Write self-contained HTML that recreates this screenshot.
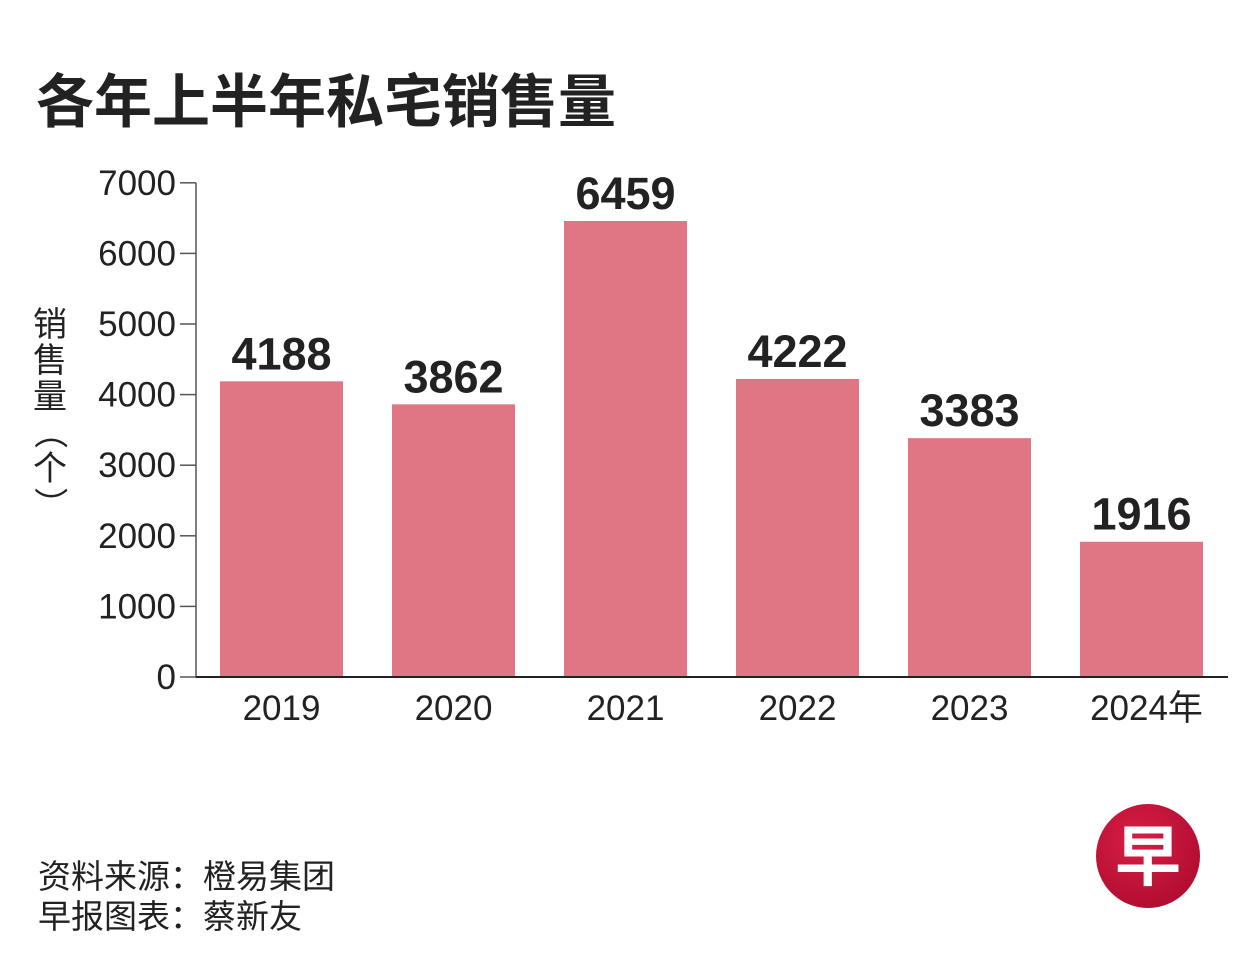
<!DOCTYPE html>
<html><head><meta charset="utf-8"><style>
body{margin:0;background:#fff;}
svg text{font-family:"Liberation Sans","Noto Sans CJK SC",sans-serif;}
</style></head><body>
<svg width="1251" height="960" viewBox="0 0 1251 960">
<text x="36" y="122" font-size="58" font-weight="bold" fill="#222">各年上半年私宅销售量</text>
<g id="yaxis"></g>
<g id="bars"></g>
<g id="xaxis"></g>
<g font-size="34" fill="#222">
<text x="50" y="336" text-anchor="middle">销</text>
<text x="50" y="372" text-anchor="middle">售</text>
<text x="50" y="408" text-anchor="middle">量</text>
<text x="50" y="444" text-anchor="middle" transform="rotate(90 50 432)">（</text>
<text x="50" y="480" text-anchor="middle">个</text>
<text x="50" y="516" text-anchor="middle" transform="rotate(90 50 504)">）</text>
</g>
<text x="38" y="888" font-size="33" fill="#222">资料来源：橙易集团</text>
<text x="38" y="928" font-size="33" fill="#222">早报图表：蔡新友</text>
<g>
<defs><radialGradient id="lg" cx="0.4" cy="0.35" r="0.7"><stop offset="0" stop-color="#d81e45"/><stop offset="1" stop-color="#b00c30"/></radialGradient></defs>
<circle cx="1148" cy="856" r="52" fill="url(#lg)"/>
<text x="1148" y="880" font-size="66" font-weight="bold" fill="#fff" text-anchor="middle" font-family="'Noto Sans CJK SC',sans-serif">早</text>
</g>
</svg>
<script>
const categories=["2019","2020","2021","2022","2023","2024年"];
const values=[4188,3862,6459,4222,3383,1916];
const ticks=[0,1000,2000,3000,4000,5000,6000,7000];
const NS="http://www.w3.org/2000/svg";
const y0=677,pxPer=456/6459;
function y(v){return y0-v*pxPer;}
function xL(i){return 220+i*172;}
const bw=123;
function mk(t,a,p){const e=document.createElementNS(NS,t);for(const k in a)e.setAttribute(k,a[k]);p.appendChild(e);return e;}
const ya=document.getElementById('yaxis'),bg=document.getElementById('bars'),xa=document.getElementById('xaxis');
const axl=mk('line',{x1:196,x2:196,y1:y(7000),y2:y0,stroke:'#555','stroke-width':1.5},ya);


ticks.forEach(t=>{
 const l=mk('line',{x1:180,x2:196,y1:y(t),y2:y(t),stroke:'#555','stroke-width':1.5},ya);
 
 
 const tx=mk('text',{x:176,y:y(t)+12,'font-size':35,'text-anchor':'end',fill:'#222'},ya);
 tx.textContent=t;
 
 
});
values.forEach((v,i)=>{
 const r=mk('rect',{x:xL(i),y:y(v),width:bw,height:y0-y(v),fill:'#e07583'},bg);
 
 
 const t=mk('text',{x:xL(i)+bw/2,y:y(v)-12,'font-size':45,'font-weight':'bold','text-anchor':'middle',fill:'#222'},bg);
 t.textContent=v;
 
 
 const c=mk('text',{x:xL(i)+bw/2+(i==5?5:0),y:720,'font-size':35,'text-anchor':'middle',fill:'#222'},xa);
 c.textContent=categories[i];
 
 
});
const xl=mk('line',{x1:196,x2:1228,y1:y0,y2:y0,stroke:'#222','stroke-width':2},xa);


</script>
</body></html>
